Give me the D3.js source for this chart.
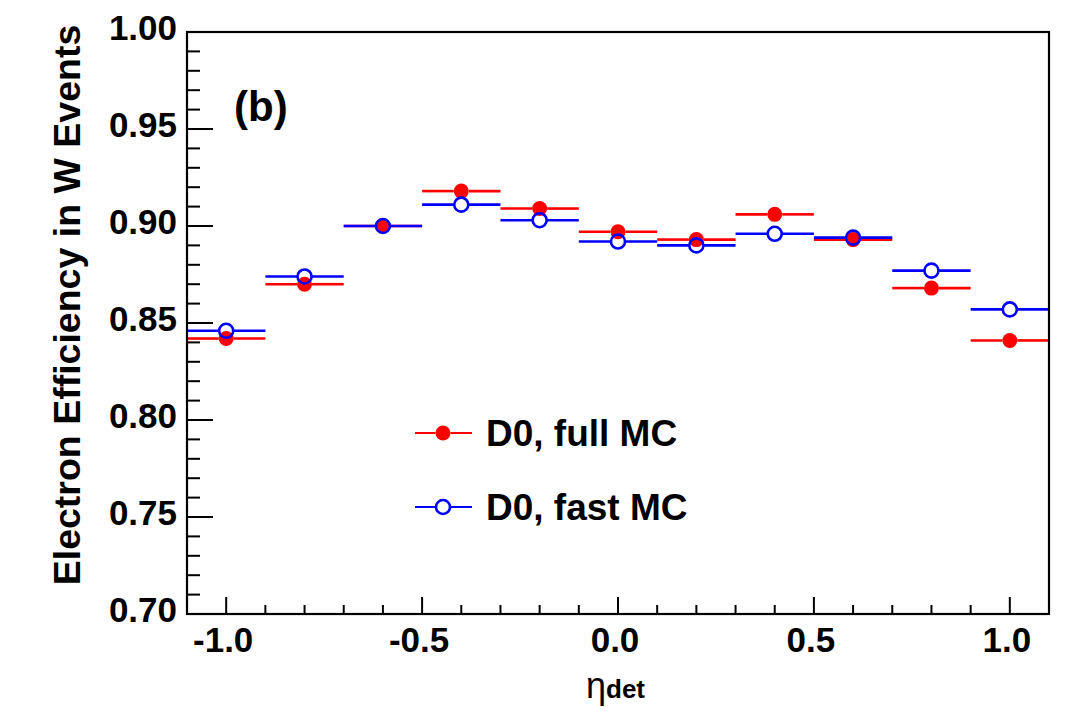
<!DOCTYPE html>
<html>
<head>
<meta charset="utf-8">
<script src="https://cdn.jsdelivr.net/npm/d3@7"></script>
<style>
  html, body { margin: 0; padding: 0; background: #fff; }
  svg { display: block; }
  text { font-family: "Liberation Sans", Arial, Helvetica, sans-serif; font-weight: bold; fill: #000; }
</style>
</head>
<body>
<svg id="chart" width="1072" height="711"></svg>
<script>
// Bin centres in eta_det (each bin is 0.2 wide)
const etaBins = [-1.0, -0.8, -0.6, -0.4, -0.2, 0.0, 0.2, 0.4, 0.6, 0.8, 1.0];
const binHalfWidth = 0.1;

// Electron efficiency per bin
const fullMC = [0.842, 0.870, 0.900, 0.918, 0.909, 0.897, 0.893, 0.906, 0.893, 0.868, 0.841];
const fastMC = [0.846, 0.874, 0.900, 0.911, 0.903, 0.892, 0.890, 0.896, 0.894, 0.877, 0.857];

const xTicks = [-1.0, -0.5, 0.0, 0.5, 1.0];
const yTicks = [0.70, 0.75, 0.80, 0.85, 0.90, 0.95, 1.00];

const series = [
  { name: "D0, full MC", values: fullMC, color: "#ff0000", filled: true },
  { name: "D0, fast MC", values: fastMC, color: "#0000ff", filled: false }
];

const svg = d3.select("#chart");
const frame = { left: 187, right: 1049, top: 32, bottom: 614 };

const x = d3.scaleLinear().domain([-1.1, 1.1]).range([frame.left, frame.right]);
const y = d3.scaleLinear().domain([0.70, 1.00]).range([frame.bottom, frame.top]);

// plain hyphen for negative numbers
const fmt = p => v => d3.format(p)(v).replace("\u2212", "-");

const markerR = s => (s.filled ? 7.5 : 7);

const plot = svg.append("g");

// Clip data to the frame
svg.append("clipPath").attr("id", "clip")
  .append("rect")
  .attr("x", frame.left).attr("y", frame.top)
  .attr("width", frame.right - frame.left).attr("height", frame.bottom - frame.top);

const dataLayer = plot.append("g").attr("clip-path", "url(#clip)");

function marker(sel, s) {
  sel.attr("r", markerR(s))
    .attr("fill", s.filled ? s.color : "none")
    .attr("stroke", s.filled ? "none" : s.color)
    .attr("stroke-width", 2.6);
}

series.forEach(s => {
  const g = dataLayer.append("g");
  const r = markerR(s);
  const pts = etaBins.map((e, i) => ({ e, v: s.values[i] }));
  // horizontal bin-width bars, interrupted at the marker
  const segs = pts.flatMap(d => [
    { x1: x(d.e - binHalfWidth), x2: x(d.e) - r, v: d.v },
    { x1: x(d.e) + r, x2: x(d.e + binHalfWidth), v: d.v }
  ]);
  g.selectAll("line.err").data(segs).join("line")
    .attr("class", "err")
    .attr("x1", d => d.x1)
    .attr("x2", d => d.x2)
    .attr("y1", d => y(d.v))
    .attr("y2", d => y(d.v))
    .attr("stroke", s.color)
    .attr("stroke-width", 2.6);
  g.selectAll("circle").data(pts).join("circle")
    .attr("cx", d => x(d.e))
    .attr("cy", d => y(d.v))
    .call(marker, s);
});

// Axes: ticks pointing inward, major + minor
const axisG = plot.append("g").attr("stroke", "#000");

// y ticks
const yMinor = d3.range(0.70, 1.0001, 0.01);
axisG.selectAll("line.ym").data(yMinor).join("line")
  .attr("x1", frame.left)
  .attr("x2", d => frame.left + (Math.abs(Math.round(d * 100) % 5) === 0 ? 26 : 13))
  .attr("y1", d => y(d)).attr("y2", d => y(d))
  .attr("stroke-width", 2);

// x ticks
const xMinor = d3.range(-1.1, 1.1001, 0.1);
axisG.selectAll("line.xm").data(xMinor).join("line")
  .attr("y1", frame.bottom)
  .attr("y2", d => frame.bottom - (Math.abs(Math.round(d * 10) % 5) === 0 ? 17 : 9))
  .attr("x1", d => x(d)).attr("x2", d => x(d))
  .attr("stroke-width", 2);

// Frame
plot.append("rect")
  .attr("x", frame.left).attr("y", frame.top)
  .attr("width", frame.right - frame.left).attr("height", frame.bottom - frame.top)
  .attr("fill", "none").attr("stroke", "#000").attr("stroke-width", 2.2);

// Tick labels
plot.selectAll("text.yl").data(yTicks).join("text")
  .attr("x", 177).attr("y", d => y(d) + 8)
  .attr("text-anchor", "end")
  .attr("font-size", 35)
  .text(fmt(".2f"));

plot.selectAll("text.xl").data(xTicks).join("text")
  .attr("x", d => x(d) - 3).attr("y", frame.bottom + 38)
  .attr("text-anchor", "middle")
  .attr("font-size", 35)
  .text(fmt(".1f"));

// Axis titles
svg.append("text")
  .attr("transform", "translate(80, 305) rotate(-90)")
  .attr("text-anchor", "middle")
  .attr("font-size", 37.5)
  .text("Electron Efficiency in W Events");

const xt = svg.append("text")
  .attr("x", 586).attr("y", 698)
  .attr("font-size", 26);
xt.append("tspan").attr("font-weight", "normal").attr("font-size", 36).text("η");
xt.append("tspan").attr("font-size", 26).text("det");

// Panel label
svg.append("text")
  .attr("x", 234).attr("y", 121)
  .attr("font-size", 42)
  .text("(b)");

// Legend
const legend = svg.append("g");
const legendRows = [433, 507];
series.forEach((s, i) => {
  const ly = legendRows[i];
  const r = markerR(s);
  const g = legend.append("g");
  [[415, 443 - r], [443 + r, 472]].forEach(([a, b]) => {
    g.append("line")
      .attr("x1", a).attr("x2", b).attr("y1", ly).attr("y2", ly)
      .attr("stroke", s.color).attr("stroke-width", 2);
  });
  g.append("circle")
    .attr("cx", 443).attr("cy", ly)
    .call(marker, s);
  g.append("text")
    .attr("x", 486).attr("y", ly + 13)
    .attr("font-size", 37)
    .text(s.name);
});
</script>
</body>
</html>
